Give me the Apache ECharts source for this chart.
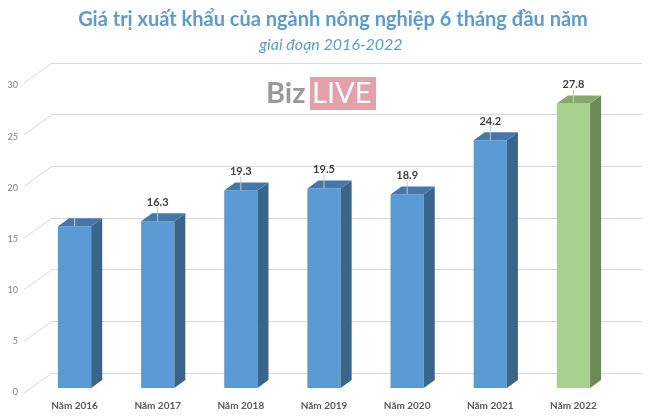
<!DOCTYPE html>
<html>
<head>
<meta charset="utf-8">
<script src="https://cdn.jsdelivr.net/npm/echarts@6/dist/echarts.min.js"></script>
<style>html,body{margin:0;padding:0;background:#fff}#c{width:650px;height:418px}</style>
</head>
<body>
<div id="c"></div>
<script>
const categories = ['Năm 2016','Năm 2017','Năm 2018','Năm 2019','Năm 2020','Năm 2021','Năm 2022'];
const values = [15.8, 16.3, 19.3, 19.5, 18.9, 24.2, 27.8];
const showValueLabel = [false, true, true, true, true, true, true];
const yTicks = [0, 5, 10, 15, 20, 25, 30];

const FONT = 'Lato, "Noto Sans", sans-serif';
const chart = echarts.init(document.getElementById('c'), null, {renderer: 'canvas'});

const DX = 11, DY = -8;
const palette = {
  blue: {front: '#5B9BD5', top: '#4478AB', side: '#3A6488'},
  green: {front: '#A9D18E', top: '#86A96B', side: '#6C8A55'}
};

function renderBar(params, api) {
  const idx = api.value(0);
  const v = api.value(1);
  const base = api.coord([idx, 0]);
  const top = api.coord([idx, v]);
  const bw = api.size([1, 0])[0] * 0.4;
  const xl = base[0] - bw / 2, xr = base[0] + bw / 2;
  const yb = base[1], yt = top[1];
  const col = idx === categories.length - 1 ? palette.green : palette.blue;
  const lead = showValueLabel[idx] ? 14 : 9;
  const children = [
    {type: 'rect', shape: {x: xl, y: yt, width: bw, height: yb - yt}, style: {fill: col.front}},
    {type: 'polygon', shape: {points: [[xr, yt], [xr + DX, yt + DY], [xr + DX, yb + DY], [xr, yb]]}, style: {fill: col.side}},
    {type: 'polygon', shape: {points: [[xl, yt], [xl + DX, yt + DY], [xr + DX, yt + DY], [xr, yt]]}, style: {fill: col.top}},
    {type: 'line', shape: {x1: base[0], y1: yt - lead, x2: base[0], y2: yt}, style: {stroke: '#c8c8c8', lineWidth: 1}}
  ];
  if (showValueLabel[idx]) {
    children.push({type: 'text', style: {text: String(v), x: base[0], y: yt - 19, align: 'center', verticalAlign: 'middle',
      fill: '#404040', font: 'bold 11px ' + FONT}});
  }
  return {type: 'group', children: children};
}

function renderDiag(params, api) {
  const p = api.coord([0, api.value(1)]);
  const bx = params.coordSys.x;
  return {type: 'line', shape: {x1: bx - 28, y1: p[1] + 20, x2: bx, y2: p[1]}, style: {stroke: '#d9d9d9', lineWidth: 1}};
}

chart.setOption({
  backgroundColor: '#fff',
  animation: false,
  title: [
    {text: 'Giá trị xuất khẩu của ngành nông nghiệp 6 tháng đầu năm', left: 328, textAlign: 'center', top: 5,
     textStyle: {color: '#5B9BD5', fontFamily: FONT, fontWeight: 'bold', fontSize: 20}},
    {text: 'giai đoạn 2016-2022', left: 326, textAlign: 'center', top: 32,
     textStyle: {color: '#5B9BD5', fontFamily: FONT, fontStyle: 'italic', fontWeight: 'normal', fontSize: 16}}
  ],
  graphic: [
    {type: 'rect', left: 310, top: 77, shape: {width: 66, height: 33}, style: {fill: '#E3A1A9'}},
    {type: 'text', left: 266, top: 79, style: {text: 'Biz', fill: '#9a9a9a', font: 'bold 29px ' + FONT}},
    {type: 'text', left: 312, top: 79, style: {text: 'LIVE', fill: '#ffffff', font: '29px ' + FONT}}
  ],
  grid: [
    {left: 52, right: 8, top: 63, bottom: 45},
    {left: 33, right: 35, top: 81, bottom: 30}
  ],
  xAxis: [
    {gridIndex: 0, type: 'category', data: categories, show: false},
    {gridIndex: 1, type: 'category', data: categories,
     axisLine: {show: false}, axisTick: {show: false},
     axisLabel: {color: '#595959', fontFamily: FONT, fontWeight: 'bold', fontSize: 10, margin: 13}}
  ],
  yAxis: [
    {gridIndex: 0, type: 'value', min: 0, max: 30, interval: 5,
     axisLabel: {show: false}, axisLine: {show: false}, axisTick: {show: false},
     splitLine: {lineStyle: {color: '#d9d9d9', width: 1}}},
    {gridIndex: 1, type: 'value', min: 0, max: 30, interval: 5,
     axisLine: {show: false}, axisTick: {show: false}, splitLine: {show: false},
     axisLabel: {color: '#808080', fontFamily: FONT, fontSize: 9, margin: 15, verticalAlign: 'top'}}
  ],
  series: [
    {type: 'custom', xAxisIndex: 0, yAxisIndex: 0, renderItem: renderDiag,
     data: yTicks.map(t => [0, t]), silent: true, z: 1},
    {type: 'custom', xAxisIndex: 1, yAxisIndex: 1, renderItem: renderBar,
     data: values.map((v, i) => [i, v]), z: 5}
  ]
});
</script>
</body>
</html>
